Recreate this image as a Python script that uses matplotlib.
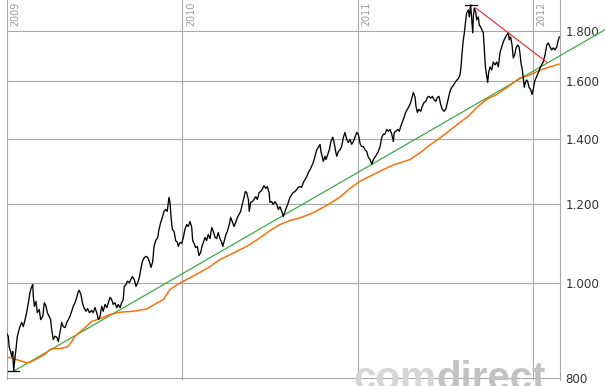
import matplotlib
matplotlib.use("Agg")
import matplotlib.pyplot as plt
import numpy as np
from matplotlib import transforms

# ---------------- data (decimal years, price) ----------------
t_2009a = [2009.002, 2009.007, 2009.013, 2009.021, 2009.027, 2009.033, 2009.038, 2009.046, 2009.051, 2009.059,
           2009.069, 2009.074, 2009.084, 2009.093, 2009.103, 2009.112, 2009.122, 2009.131, 2009.141, 2009.147,
           2009.150, 2009.156, 2009.165, 2009.173, 2009.184, 2009.192, 2009.204, 2009.213, 2009.223, 2009.230,
           2009.240, 2009.249, 2009.255, 2009.264, 2009.274, 2009.284, 2009.293, 2009.302, 2009.312, 2009.321,
           2009.331, 2009.341, 2009.350, 2009.359, 2009.369, 2009.378, 2009.388, 2009.398, 2009.407, 2009.412,
           2009.422, 2009.430, 2009.439, 2009.451, 2009.460, 2009.470, 2009.483, 2009.492, 2009.502, 2009.512,
           2009.521, 2009.531]
p_2009a = [886, 882, 859, 851, 841, 851, 813, 841, 855, 882,
           896, 902, 911, 902, 917, 932, 954, 977, 991, 995,
           968, 946, 957, 932, 939, 917, 924, 954, 946, 932,
           924, 917, 896, 875, 882, 880, 871, 890, 911, 902,
           900, 911, 917, 924, 935, 946, 954, 966, 979, 982,
           972, 954, 943, 935, 941, 932, 937, 932, 943, 932,
           917, 924]

t_2009b = [2009.540, 2009.549, 2009.559, 2009.569, 2009.578, 2009.588, 2009.597, 2009.606, 2009.616, 2009.626,
           2009.635, 2009.645, 2009.654, 2009.663, 2009.669, 2009.679, 2009.686, 2009.698, 2009.706, 2009.715,
           2009.726, 2009.736, 2009.746, 2009.755, 2009.763, 2009.772, 2009.783, 2009.793, 2009.803, 2009.812,
           2009.822, 2009.831, 2009.839, 2009.848, 2009.860, 2009.867, 2009.877, 2009.886, 2009.896, 2009.905,
           2009.914, 2009.924, 2009.930, 2009.936, 2009.943, 2009.953, 2009.962, 2009.972, 2009.977, 2009.987,
           2009.997]
p_2009b = [946, 935, 950, 943, 954, 966, 961, 950, 954, 943,
           950, 943, 954, 961, 991, 995, 1003, 1000, 1007, 1014,
           1007, 991, 1000, 1012, 1031, 1050, 1060, 1063, 1060, 1050,
           1036, 1050, 1088, 1103, 1111, 1132, 1151, 1164, 1181, 1186,
           1181, 1220, 1206, 1164, 1132, 1127, 1103, 1098, 1088, 1098,
           1096]

t_2010 = [2010.006, 2010.015, 2010.025, 2010.034, 2010.044, 2010.054, 2010.059, 2010.067, 2010.076, 2010.086,
          2010.095, 2010.105, 2010.112, 2010.120, 2010.130, 2010.139, 2010.148, 2010.158, 2010.168, 2010.177,
          2010.187, 2010.196, 2010.205, 2010.215, 2010.225, 2010.231, 2010.240, 2010.249, 2010.257, 2010.268,
          2010.276, 2010.285, 2010.295, 2010.305, 2010.314, 2010.323, 2010.333, 2010.342, 2010.352, 2010.359,
          2010.367, 2010.377, 2010.382, 2010.390, 2010.399, 2010.409, 2010.419, 2010.428, 2010.438, 2010.447,
          2010.456, 2010.466, 2010.476, 2010.485, 2010.495, 2010.500, 2010.510, 2010.519, 2010.529, 2010.539,
          2010.548, 2010.557, 2010.567, 2010.576, 2010.586, 2010.596, 2010.605, 2010.614, 2010.624, 2010.633,
          2010.643, 2010.653, 2010.662, 2010.671, 2010.681, 2010.690, 2010.700, 2010.710, 2010.719, 2010.729,
          2010.738, 2010.747, 2010.757, 2010.767, 2010.776, 2010.786, 2010.791, 2010.799, 2010.804, 2010.814,
          2010.820, 2010.830, 2010.839, 2010.848, 2010.858, 2010.865, 2010.875, 2010.881, 2010.890, 2010.900,
          2010.909, 2010.919, 2010.928, 2010.938, 2010.947, 2010.957, 2010.966, 2010.976, 2010.985, 2010.995]
p_2010 = [1111, 1132, 1145, 1140, 1153, 1137, 1103, 1096, 1085, 1088,
          1065, 1073, 1088, 1098, 1111, 1103, 1119, 1108, 1137, 1127,
          1111, 1108, 1124, 1108, 1098, 1088, 1103, 1119, 1127, 1145,
          1164, 1153, 1140, 1151, 1164, 1172, 1181, 1200, 1220, 1237,
          1234, 1214, 1181, 1206, 1208, 1214, 1222, 1214, 1234, 1237,
          1243, 1254, 1246, 1251, 1234, 1206, 1208, 1200, 1208, 1200,
          1186, 1194, 1181, 1167, 1181, 1194, 1206, 1220, 1228, 1234,
          1237, 1243, 1249, 1251, 1249, 1263, 1272, 1281, 1293, 1302,
          1312, 1324, 1343, 1364, 1371, 1381, 1358, 1340, 1327, 1343,
          1333, 1349, 1364, 1390, 1404, 1390, 1358, 1343, 1358, 1364,
          1374, 1404, 1420, 1397, 1387, 1397, 1381, 1390, 1404, 1420]

t_2011 = [2011.004, 2011.014, 2011.023, 2011.033, 2011.042, 2011.052, 2011.061, 2011.071, 2011.081, 2011.090,
          2011.099, 2011.109, 2011.118, 2011.128, 2011.138, 2011.147, 2011.156, 2011.166, 2011.175, 2011.185,
          2011.195, 2011.204, 2011.209, 2011.219, 2011.229, 2011.238, 2011.246, 2011.255, 2011.265, 2011.274,
          2011.284, 2011.293, 2011.303, 2011.312, 2011.318, 2011.328, 2011.333, 2011.341, 2011.350, 2011.360,
          2011.369, 2011.379, 2011.389, 2011.398, 2011.407, 2011.417, 2011.426, 2011.436, 2011.446, 2011.455,
          2011.464, 2011.474, 2011.483, 2011.493, 2011.503, 2011.512, 2011.520, 2011.527, 2011.537, 2011.546,
          2011.556, 2011.565, 2011.575, 2011.584, 2011.590, 2011.596, 2011.603, 2011.609, 2011.617, 2011.622,
          2011.632, 2011.637, 2011.645, 2011.651, 2011.657, 2011.660, 2011.666, 2011.674, 2011.679, 2011.689,
          2011.694, 2011.702, 2011.710, 2011.717, 2011.723, 2011.729, 2011.736, 2011.742, 2011.748, 2011.755,
          2011.765, 2011.774, 2011.784, 2011.794, 2011.803, 2011.812, 2011.822, 2011.831, 2011.841, 2011.851,
          2011.860, 2011.865, 2011.873, 2011.881, 2011.888, 2011.896, 2011.904, 2011.913, 2011.921, 2011.926,
          2011.932, 2011.940, 2011.945, 2011.951, 2011.957, 2011.965, 2011.970, 2011.978, 2011.987, 2011.995]
p_2011 = [1414, 1384, 1374, 1374, 1364, 1358, 1340, 1333, 1318, 1333,
          1340, 1349, 1358, 1374, 1404, 1414, 1414, 1430, 1424, 1430,
          1414, 1390, 1420, 1424, 1430, 1424, 1440, 1454, 1471, 1488,
          1499, 1509, 1523, 1545, 1559, 1541, 1509, 1488, 1499, 1492,
          1509, 1523, 1527, 1541, 1545, 1538, 1545, 1534, 1527, 1541,
          1545, 1516, 1499, 1492, 1499, 1523, 1545, 1563, 1578, 1585,
          1596, 1604, 1611, 1624, 1655, 1710, 1763, 1792, 1847, 1877,
          1891, 1860, 1913, 1847, 1792, 1860, 1899, 1882, 1847, 1860,
          1825, 1817, 1804, 1792, 1722, 1655, 1624, 1596, 1635, 1655,
          1643, 1674, 1663, 1674, 1655, 1710, 1734, 1754, 1771, 1783,
          1792, 1763, 1775, 1742, 1690, 1702, 1730, 1742, 1734, 1710,
          1670, 1643, 1613, 1578, 1596, 1605, 1600, 1578, 1570, 1552]

t_2012 = [2012.002, 2012.010, 2012.018, 2012.025, 2012.033, 2012.041, 2012.050, 2012.059, 2012.069, 2012.079,
          2012.088, 2012.098, 2012.107, 2012.116, 2012.126, 2012.136, 2012.145, 2012.151]
p_2012 = [1570, 1600, 1613, 1624, 1635, 1651, 1663, 1674, 1702, 1742,
          1750, 1734, 1722, 1730, 1722, 1734, 1763, 1775]

# moving average (orange)
ma_t = [2009.002, 2009.027, 2009.055, 2009.084, 2009.112, 2009.131, 2009.160, 2009.188, 2009.217, 2009.245,
        2009.274, 2009.302, 2009.331, 2009.350, 2009.369, 2009.388, 2009.407, 2009.445, 2009.483, 2009.531,
        2009.588, 2009.645, 2009.719, 2009.797, 2009.854, 2009.892, 2009.930, 2009.987, 2010.044, 2010.101,
        2010.148, 2010.215, 2010.291, 2010.367, 2010.443, 2010.500, 2010.557, 2010.614, 2010.671, 2010.747,
        2010.833, 2010.900, 2010.957, 2011.014, 2011.071, 2011.147, 2011.204, 2011.299, 2011.356, 2011.413,
        2011.470, 2011.527, 2011.584, 2011.630, 2011.679, 2011.736, 2011.794, 2011.860, 2011.926, 2011.983,
        2012.040, 2012.098, 2012.149]
ma_p = [840, 838, 835, 832, 829, 830, 835, 840, 846, 855,
        857, 857, 859, 862, 871, 882, 888, 900, 913, 919,
        928, 933, 935, 940, 953, 961, 984, 999, 1011, 1024,
        1035, 1055, 1071, 1088, 1110, 1129, 1145, 1156, 1163, 1177,
        1200, 1221, 1246, 1267, 1282, 1302, 1316, 1333, 1354, 1379,
        1402, 1427, 1454, 1474, 1505, 1534, 1552, 1581, 1613, 1624,
        1643, 1655, 1666]

# trend lines (anchor points) and extremes
green_t = [2009.038, 2011.081]
green_p = [813, 1318]
green_end_t = 2012.411
red_t = [2011.675, 2011.860]
red_p = [1899, 1792]
red_end_t = 2012.079
high_t = [2011.613, 2011.679]
high_p = 1913
low_t = [2009.007, 2009.068]
low_p = 813

years = [2009, 2010, 2011, 2012]
y_levels = [800, 1000, 1200, 1400, 1600, 1800]

# ---------------- figure ----------------
W, H = 605, 386
fig = plt.figure(figsize=(W / 100, H / 100), dpi=100)
ax = fig.add_axes([7 / W, 6 / H, 553 / W, 380 / H])
ax.set_yscale('log')
ax.set_xlim(2009.0, 2012.1546)
ax.set_ylim(796.3, 1935)

for s in ['top', 'left', 'bottom']:
    ax.spines[s].set_visible(False)
ax.spines['right'].set_color('#a8a8a8')
ax.spines['right'].set_linewidth(0.8)

ax.set_xticks(years)
ax.set_xticklabels([])
ax.set_yticks(y_levels)
ax.yaxis.set_minor_locator(matplotlib.ticker.NullLocator())
ax.set_yticklabels([f"{v:,.0f}".replace(",", ".") for v in y_levels])
ax.yaxis.tick_right()
ax.tick_params(axis='both', length=0)
ax.tick_params(axis='y', pad=4, labelsize=8.6, labelcolor='#333333')
ax.grid(True, color='#a8a8a8', linewidth=0.8)
ax.set_axisbelow(True)

# year labels
trans = transforms.blended_transform_factory(ax.transData, ax.transAxes)
trans = transforms.offset_copy(trans, fig=fig, x=2.7, y=-1.2, units='points')
for yr in years:
    ax.text(yr, 1.0, str(yr), transform=trans, rotation=90, ha='left', va='top',
            fontsize=6.9, color='#999999')

# series
t_all = t_2009a + t_2009b + t_2010 + t_2011 + t_2012
p_all = p_2009a + p_2009b + p_2010 + p_2011 + p_2012

# green trend line (straight in log space), extended to the right edge
gl = np.log(green_p)
slope = (gl[1] - gl[0]) / (green_t[1] - green_t[0])
gx = [green_t[0], green_end_t]
gy = [green_p[0], float(np.exp(gl[0] + slope * (green_end_t - green_t[0])))]
ax.plot(gx, gy, color='#2fa83c', lw=0.85, clip_on=False, zorder=3)

ax.plot(ma_t, ma_p, color='#ff6a00', lw=1.05, zorder=4)
ax.plot(t_all, p_all, color='black', lw=0.95, zorder=5)

rl = np.log(red_p)
rslope = (rl[1] - rl[0]) / (red_t[1] - red_t[0])
rx = [red_t[0], red_end_t]
ry = [red_p[0], float(np.exp(rl[0] + rslope * (red_end_t - red_t[0])))]
ax.plot(rx, ry, color='#e8202a', lw=0.8, zorder=6)

ax.plot(high_t, [high_p, high_p], color='black', lw=0.9, zorder=6)
ax.plot(low_t, [low_p, low_p], color='black', lw=0.9, zorder=6)

# watermark (partly cut off by the bottom edge, as in the reference)
t1 = fig.text(353 / W, -4.5 / H, "com", fontsize=29, fontweight='bold',
              family='Liberation Sans', color='#d6d6d6', va='baseline', ha='left', zorder=10)
fig.canvas.draw()
bb = t1.get_window_extent()
fig.text(bb.x1 / W, -4.5 / H, "direct", fontsize=29, fontweight='bold',
         family='Liberation Sans', color='#c2c2c2', va='baseline', ha='left', zorder=10)

fig.savefig("out.png", dpi=100)
